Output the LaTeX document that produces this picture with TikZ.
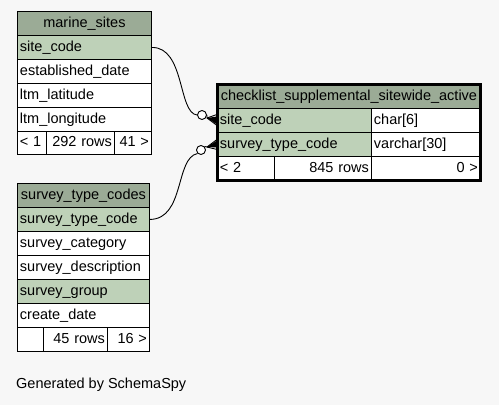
\documentclass[tikz,border=0pt]{standalone}
\usepackage{fontspec}
\setmainfont{Liberation Sans}
\usetikzlibrary{calc}
\definecolor{bg}{HTML}{F7F7F7}
\definecolor{hdr}{HTML}{9BAB96}
\definecolor{key}{HTML}{BED1B8}
\tikzset{
  cell/.style={draw=black, line width=0.9pt, anchor=north west, inner xsep=2.5pt, inner ysep=0pt,
    font=\fontsize{14.5}{16}\selectfont, text height=10.5pt, text depth=3pt},
  rel/.style={draw=black, line width=0.9pt},
  opt/.style={circle, draw=black, fill=white, line width=0.9pt, minimum size=9pt, inner sep=0pt},
}
\newcommand\tcell[8]{%
  \pgfmathsetmacro\cw{#4}\pgfmathsetmacro\ch{#5}\pgfmathsetmacro\tw{#4-5}%
  \node[cell, fill=#6, minimum width=\cw pt, minimum height=\ch pt, text width=\tw pt, align=#7] (#1) at (#2,#3) {#8};}
\begin{document}
\begin{tikzpicture}[x=1pt,y=-1pt]
\fill[bg] (0,0) rectangle (499,405);
\useasboundingbox (0,0) rectangle (499,405);
% marine_sites
\tcell{ms}{17}{11}{134}{24}{hdr}{center}{marine\_sites}
\tcell{mssite}{17}{35}{134}{24}{key}{left}{site\_code}
\tcell{msest}{17}{59}{134}{24}{white}{left}{established\_date}
\tcell{mslat}{17}{83}{134}{24}{white}{left}{ltm\_latitude}
\tcell{mslon}{17}{107}{134}{24}{white}{left}{ltm\_longitude}
\tcell{msf1}{17}{131}{29}{23}{white}{left}{< 1}
\tcell{msf2}{46}{131}{68}{23}{white}{right}{292 rows}
\tcell{msf3}{114}{131}{37}{23}{white}{right}{41 >}
% survey_type_codes
\tcell{st}{17}{183}{132}{24}{hdr}{center}{survey\_type\_codes}
\tcell{stcode}{17}{207}{132}{24}{key}{left}{survey\_type\_code}
\tcell{stcat}{17}{231}{132}{24}{white}{left}{survey\_category}
\tcell{stdesc}{17}{255}{132}{24}{white}{left}{survey\_description}
\tcell{stgrp}{17}{279}{132}{24}{key}{left}{survey\_group}
\tcell{stdate}{17}{303}{132}{24}{white}{left}{create\_date}
\tcell{stf1}{17}{327}{26}{24}{white}{left}{}
\tcell{stf2}{43}{327}{64}{24}{white}{right}{45 rows}
\tcell{stf3}{107}{327}{42}{24}{white}{right}{16 >}
% checklist_supplemental_sitewide_active
\tcell{mn}{217}{84}{263}{24}{hdr}{center}{checklist\_supplemental\_sitewide\_active}
\tcell{mnsite}{217}{108}{154}{24}{key}{left}{site\_code}
\tcell{mnsitet}{371}{108}{109}{24}{white}{left}{char[6]}
\tcell{mnstc}{217}{132}{154}{24}{key}{left}{survey\_type\_code}
\tcell{mnstct}{371}{132}{109}{24}{white}{left}{varchar[30]}
\tcell{mnf1}{217}{156}{57}{24}{white}{left}{< 2}
\tcell{mnf2}{274}{156}{97}{24}{white}{right}{845 rows}
\tcell{mnf3}{371}{156}{109}{24}{white}{right}{0 >}
\draw[line width=3pt] (mn.north west) rectangle (mnf3.south east);
% relationship 1
\node[opt] (o1) at (202,115) {};
\coordinate (a1) at (207,118);
\draw[rel] (mssite.east) .. controls (185,47) and (178,113) .. (o1.west);
\draw[rel] (o1.east) -- (a1);
\draw[rel] (a1) -- ($(mnsite.west)+(0,-6)$);
\draw[rel] (a1) -- (mnsite.west);
\draw[rel] (a1) -- ($(mnsite.west)+(0,5)$);
\fill (a1) -- ($(mnsite.west)+(0,-4)$) -- ($(mnsite.west)+(0,4)$) -- cycle;
% relationship 2
\node[opt] (o2) at (201,150) {};
\coordinate (a2) at (207,147);
\draw[rel] (stcode.east) .. controls (185,219) and (175,158) .. (o2.south west);
\draw[rel] (o2.north east) -- (a2);
\draw[rel] (a2) -- ($(mnstc.west)+(0,-5)$);
\draw[rel] (a2) -- (mnstc.west);
\draw[rel] (a2) -- ($(mnstc.west)+(0,5)$);
\fill (a2) -- ($(mnstc.west)+(0,-4)$) -- ($(mnstc.west)+(0,3)$) -- cycle;
% footer
\node[anchor=west, font=\fontsize{14.5}{16}\selectfont, inner sep=0pt] (gen) at (16,385) {Generated by SchemaSpy};
\end{tikzpicture}
\end{document}
